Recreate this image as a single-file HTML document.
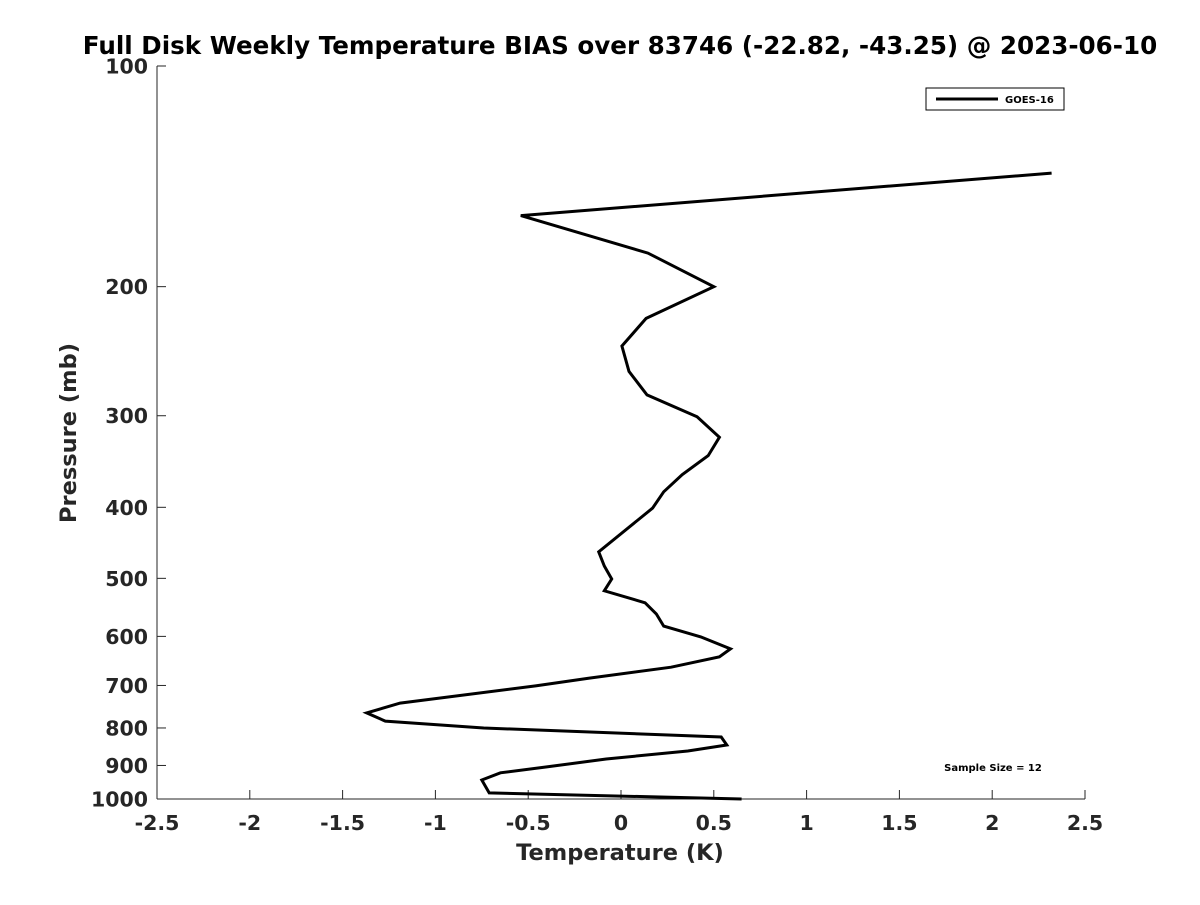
<!DOCTYPE html>
<html><head><meta charset="utf-8"><style>
body{margin:0;background:#fff;}
svg text{font-family:"DejaVu Sans","Liberation Sans",sans-serif;font-weight:bold;fill:#262626;}
</style></head><body>
<svg id="chart" width="1200" height="900">
<rect width="1200" height="900" fill="#fff"/>
<text x="620" y="54" text-anchor="middle" font-size="24.6" fill="#000" style="fill:#000">Full Disk Weekly Temperature BIAS over 83746 (-22.82, -43.25) @ 2023-06-10</text>
<g id="axes"></g>
<text x="620" y="860" text-anchor="middle" font-size="22.5">Temperature (K)</text>
<text transform="translate(76,433) rotate(-90)" text-anchor="middle" font-size="22.5">Pressure (mb)</text>
<g>
<rect x="926" y="88" width="138" height="22" fill="#fff" stroke="#000" stroke-width="1"/>
<line x1="936" y1="99" x2="998" y2="99" stroke="#000" stroke-width="3"/>
<text x="1005" y="103" font-size="10" style="fill:#000">GOES-16</text>
</g>
<text x="993" y="771" text-anchor="middle" font-size="10" style="fill:#000">Sample Size = 12</text>
<path id="series" fill="none" stroke="#000" stroke-width="3" stroke-linejoin="miter"/>
</svg>
<script>
const temps=[2.32,-0.54,0.145,0.50,0.135,0.005,0.043,0.14,0.41,0.53,0.47,0.33,0.23,0.17,-0.12,-0.09,-0.05,-0.09,0.13,0.19,0.23,0.43,0.59,0.53,0.27,-0.17,-0.46,-1.19,-1.37,-1.27,-0.74,0.54,0.57,0.36,-0.08,-0.40,-0.65,-0.75,-0.71,0.65];
const pressures=[140,160,180,200,221,241,261,281,301,321,340,361,381,401,460,481,501,520,540,559,581,601,624,640,661,684,701,740,763,783,800,823,844,860,882,904,921,942,981,1000];
const xTicks=[-2.5,-2,-1.5,-1,-0.5,0,0.5,1,1.5,2,2.5];
const yTicks=[100,200,300,400,500,600,700,800,900,1000];
const X0=157,X1=1085,Y0=66,Y1=799;
const xs=v=>X0+(v+2.5)/5*(X1-X0);
const ys=p=>Y0+(Math.log10(p)-2)*(Y1-Y0);
const NS="http://www.w3.org/2000/svg";
const ax=document.getElementById('axes');
function mk(t,a){const e=document.createElementNS(NS,t);for(const k in a)e.setAttribute(k,a[k]);ax.appendChild(e);return e;}
let e=mk('line',{x1:X0,y1:Y1,x2:X1,y2:Y1,stroke:'#262626'});


e=mk('line',{x1:X0,y1:Y0,x2:X0,y2:Y1,stroke:'#262626'});


xTicks.forEach(v=>{const x=xs(v);
 let t=mk('line',{x1:x,y1:Y1,x2:x,y2:Y1-9,stroke:'#262626'});
 
 
 let l=mk('text',{x:x,y:830,'text-anchor':'middle','font-size':20.5});l.textContent=String(v);
 
 
});
yTicks.forEach(p=>{const y=ys(p);
 let t=mk('line',{x1:X0,y1:y,x2:X0+9,y2:y,stroke:'#262626'});
 
 
 let l=mk('text',{x:X0-9,y:y+7.5,'text-anchor':'end','font-size':20.5});l.textContent=String(p);
 
 
});
document.getElementById('series').setAttribute('d',temps.map((t,i)=>(i?'L':'M')+xs(t).toFixed(1)+','+ys(pressures[i]).toFixed(1)).join(''));
</script>
</body></html>
